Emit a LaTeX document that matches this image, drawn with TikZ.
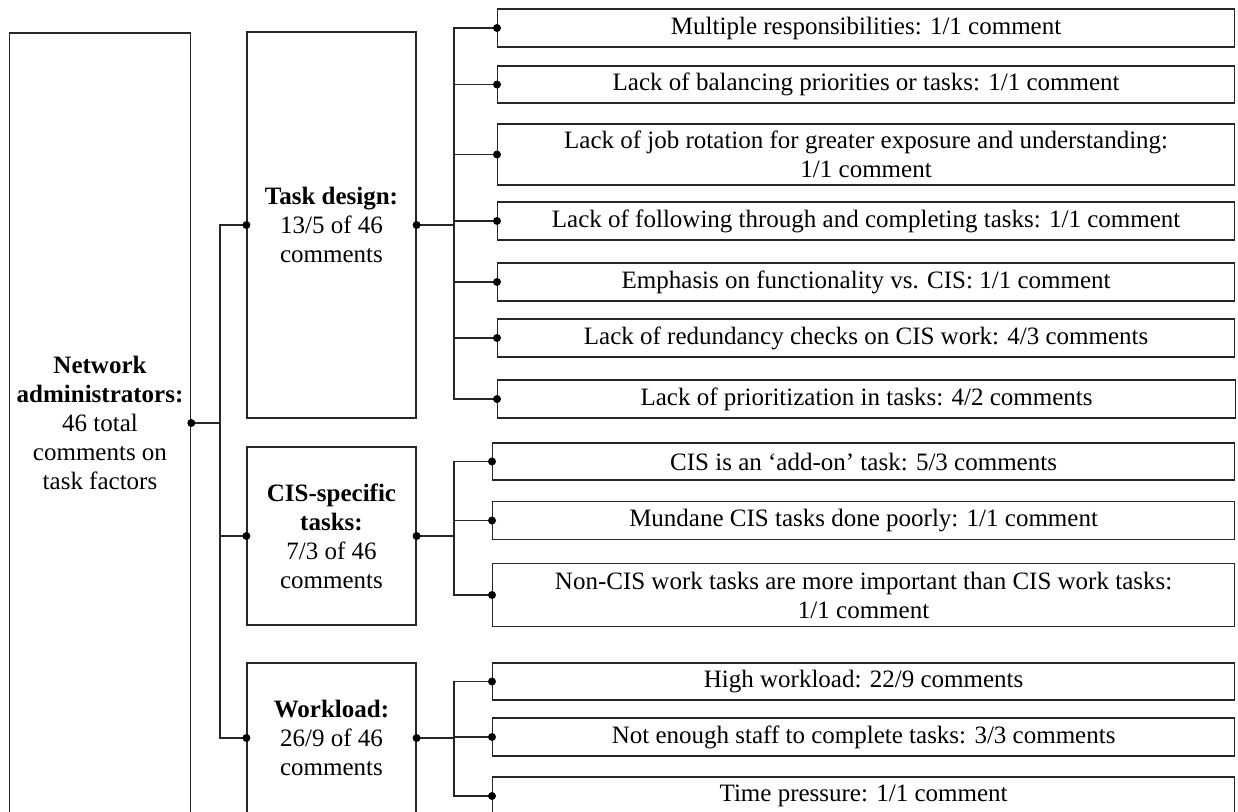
\documentclass[tikz,border=0pt]{standalone}
\usepackage{fontspec}
\setmainfont{Liberation Serif}
\begin{document}
\begin{tikzpicture}[x=1pt,y=-1pt,
  line width=1.2pt,
  every node/.style={font=\fontsize{25}{29}\selectfont, inner sep=0pt},
  box/.style={draw=black!85, line width=1.2pt, align=center},
  leaf/.style={box, anchor=west, minimum height=#1},
  leaf/.default=38pt,
  wire/.style={draw=black!85, line width=1.2pt},
  jdot/.style={fill=black}]
\useasboundingbox (0,0) rectangle (1238,811);

% root and the three factor groups
\node[box, minimum width=181.4pt, minimum height=780pt] (L) at (100,423)
  {\textbf{Network}\\\textbf{administrators:}\\46 total\\comments on\\task factors};
\node[box, minimum width=169pt, minimum height=386pt] (T) at (331.5,225)
  {\textbf{Task design:}\\13/5 of 46\\comments};
\node[box, minimum width=169pt, minimum height=178pt] (C) at (331.5,536)
  {\textbf{CIS-specific}\\\textbf{tasks:}\\7/3 of 46\\comments};
\node[box, minimum width=169pt, minimum height=150pt] (W) at (331.5,738)
  {\textbf{Workload:}\\26/9 of 46\\comments};

% task design comments
\node[leaf, minimum width=737pt] (t1) at (497,28) {Multiple responsibilities: 1/1 comment};
\node[leaf=37pt, minimum width=737pt] (t2) at (497,84.5) {Lack of balancing priorities or tasks: 1/1 comment};
\node[leaf=61pt, minimum width=737pt] (t3) at (497,154.5) {Lack of job rotation for greater exposure and understanding:\\1/1 comment};
\node[leaf, minimum width=737pt] (t4) at (497,221) {Lack of following through and completing tasks: 1/1 comment};
\node[leaf, minimum width=737pt] (t5) at (497,282) {Emphasis on functionality vs. CIS: 1/1 comment};
\node[leaf, minimum width=737pt] (t6) at (497,338) {Lack of redundancy checks on CIS work: 4/3 comments};
\node[leaf, minimum width=738pt] (t7) at (497,399) {Lack of prioritization in tasks: 4/2 comments};

% CIS-specific comments
\node[leaf=37pt, minimum width=742pt] (c1) at (492,461.5) {CIS is an ‘add-on’ task: 5/3 comments};
\node[leaf, minimum width=742pt] (c2) at (492,520.5) {Mundane CIS tasks done poorly: 1/1 comment};
\node[leaf=63pt, minimum width=742pt] (c3) at (492,595) {Non-CIS work tasks are more important than CIS work tasks:\\1/1 comment};

% workload comments
\node[leaf=37pt, minimum width=742pt] (w1) at (492,681.5) {High workload: 22/9 comments};
\node[leaf, minimum width=742pt] (w2) at (492,737) {Not enough staff to complete tasks: 3/3 comments};
\node[leaf, minimum width=742pt] (w3) at (492,796) {Time pressure: 1/1 comment};

% bus lines
\coordinate (busA) at (220,0);
\coordinate (busB) at (454,0);

\draw[wire] (L.east) -- (L.east -| busA);
\draw[wire] (T.west) -- (T.west -| busA) -- (W.west -| busA) -- (W.west);
\draw[wire] (C.west) -- (C.west -| busA);

\draw[wire] (T.east) -- (T.east -| busB);
\draw[wire] (t1.west) -- (t1.west -| busB) -- (t7.west -| busB) -- (t7.west);
\foreach \n in {t2,t3,t4,t5,t6}
  \draw[wire] (\n.west) -- (\n.west -| busB);

\draw[wire] (C.east) -- (C.east -| busB);
\draw[wire] (c1.west) -- (c1.west -| busB) -- (c3.west -| busB) -- (c3.west);
\draw[wire] (c2.west) -- (c2.west -| busB);

\draw[wire] (W.east) -- (W.east -| busB);
\draw[wire] (w1.west) -- (w1.west -| busB) -- (w3.west -| busB) -- (w3.west);
\draw[wire] (w2.west) -- (w2.west -| busB);

% junction dots
\foreach \p in {L.east,T.west,C.west,W.west,T.east,C.east,W.east,
                t1.west,t2.west,t3.west,t4.west,t5.west,t6.west,t7.west,
                c1.west,c2.west,c3.west,w1.west,w2.west,w3.west}
  \fill[jdot] (\p) circle (4pt);
\end{tikzpicture}
\end{document}
